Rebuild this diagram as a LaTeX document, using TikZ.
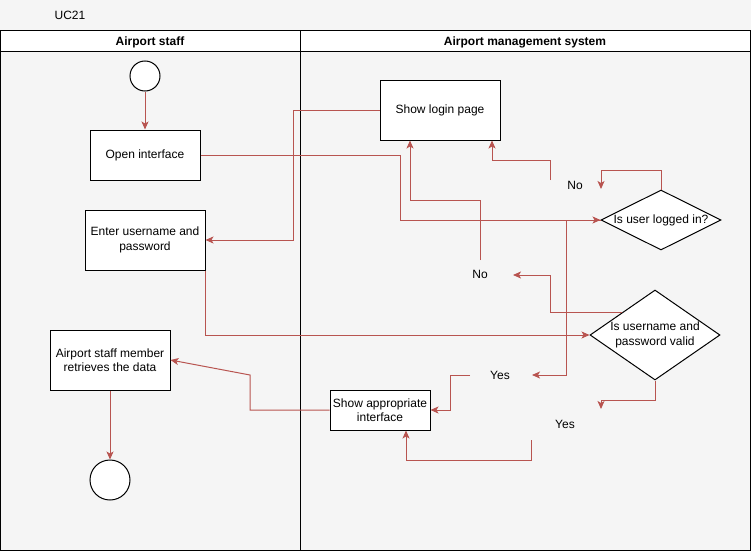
\documentclass[tikz,border=0pt]{standalone}
\usepackage{fontspec}
\setmainfont{Liberation Sans}
\usetikzlibrary{arrows.meta,shapes.geometric}
\definecolor{flowred}{HTML}{B85450}
\definecolor{pagegray}{HTML}{F5F5F5}
\begin{document}
\begin{tikzpicture}[x=1pt,y=-1pt,
    every node/.style={font=\fontsize{12}{14.4}\selectfont,align=center},
    act/.style={draw,fill=white,line width=1pt,inner sep=2pt},
    dec/.style={draw,fill=white,line width=1pt,diamond,inner sep=-4pt},
    ends/.style={draw,fill=white,line width=1pt,circle,inner sep=0pt},
    flow/.style={draw=flowred,line width=1pt,-{Stealth[length=8pt,width=7pt,inset=2pt]}}]
    \fill[pagegray] (0,0) rectangle (751,551);
    \useasboundingbox (0,0) rectangle (751,551);
    % pool and lanes
    \draw[line width=1pt,fill=white] (0,31) rectangle (750,52);
    \draw[line width=1pt] (0,31) rectangle (750,550);
    \draw[line width=1pt] (300,31) -- (300,550);
    \node (uc) at (70,15) {UC21};
    \node[font=\fontsize{12}{14.4}\selectfont\bfseries] (hstaff) at (150,42) {Airport staff};
    \node[font=\fontsize{12}{14.4}\selectfont\bfseries] (hsys) at (525,42) {Airport management system};
    % activities
    \node[ends,minimum size=30pt] (start) at (145,76) {};
    \node[act,minimum width=110pt,minimum height=50pt] (open) at (145,155) {Open interface};
    \node[act,minimum width=120pt,minimum height=60pt] (enter) at (145,240) {Enter username and\\password};
    \node[act,minimum width=120pt,minimum height=60pt] (retr) at (110,360) {Airport staff member\\retrieves the data};
    \node[ends,minimum size=40pt] (stop) at (110,480) {};
    \node[act,minimum width=120pt,minimum height=60pt] (login) at (440,110) {Show login page};
    \node[act,minimum width=100pt,minimum height=40pt] (show) at (380,410) {Show appropriate\\interface};
    \node[dec,aspect=2,minimum width=120pt,minimum height=60pt] (logged) at (661,220) {Is user logged in?};
    \node[dec,aspect=1.444,minimum width=130pt,minimum height=90pt] (valid) at (655,335) {Is username and\\password valid};
    % labels
    \node (no1) at (575,185) {No};
    \node (no2) at (480,274) {No};
    \node (yes1) at (500,375) {Yes};
    \node (yes2) at (565,424) {Yes};
    \coordinate (no1in) at (601,189);
    \coordinate (no1out) at (550,180);
    \coordinate (no2in) at (513,275);
    \coordinate (no2out) at (480,260);
    \coordinate (yes1in) at (532,375);
    \coordinate (yes1out) at (470,375);
    \coordinate (yes2in) at (601,409);
    \coordinate (yes2out) at (531,440);
    % flows
    \draw[flow] (start) -- (open);
    \draw[flow] (open.east) -| (400,220) -- (logged.west);
    \draw[flow] (login.west) -| (293,240) -- (enter.east);
    \draw[flow] (enter.south east) |- (valid.west);
    \draw[flow] (logged.north) |- (601,170) -- (no1in);
    \draw[flow] (no1out) |- (492,160) -- (492,160 |- login.south);
    \draw[flow] (valid.north west) -| (550,275) -- (no2in);
    \draw[flow] (no2out) |- (410,200) -- (410,200 |- login.south);
    \draw[flow] (logged.west) -| (566,375) -- (yes1in);
    \draw[flow] (yes1out) -| (450,410) -- (show.east);
    \draw[flow] (valid.south) |- (601,400) -- (yes2in);
    \draw[flow] (yes2out) |- (406,460) -- (406,460 |- show.south);
    \draw[flow] (show.west) -| (250,375) -- (retr.east);
    \draw[flow] (retr) -- (stop);
\end{tikzpicture}
\end{document}
